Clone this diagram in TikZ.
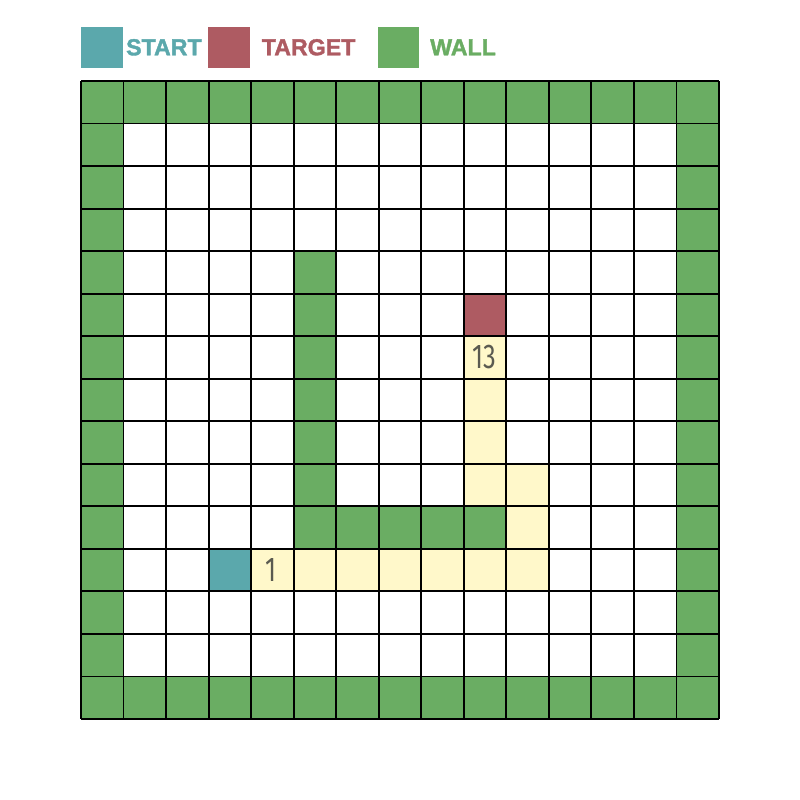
\documentclass[tikz,border=0pt]{standalone}
\usepackage{fontspec}
\setsansfont{Liberation Sans}[BoldFeatures={FakeBold=1.6}]
\newfontfamily\numfont{Fira Sans}
\usetikzlibrary{positioning}
\definecolor{startc}{HTML}{5BA8AC}
\definecolor{targetc}{HTML}{AE5B62}
\definecolor{wallc}{HTML}{6AAD63}
\definecolor{trailc}{HTML}{FFF8CA}
\definecolor{numgray}{HTML}{5A5A50}

\begin{document}
\begin{tikzpicture}[x=1cm,y=1cm,
  key/.style={minimum size=0.97cm,inner sep=0,anchor=south west},
  lbl/.style={font=\sffamily\bfseries\fontsize{15.5}{18}\selectfont,inner sep=0},
  num/.style={font=\numfont\fontsize{23}{25}\selectfont,text=numgray,xscale=0.74,inner sep=0},
  gridline/.style={line width=1.2pt,draw=black}]
  \useasboundingbox (-1.905,-1.905) rectangle (16.905,16.905);
  % legend
  \node[key,fill=startc] (ks) at (0,15.3) {};
  \node[lbl,text=startc,right=0.07 of ks] (ls) {START};
  \node[key,fill=targetc] (kt) at (2.99,15.3) {};
  \node[lbl,text=targetc,right=0.27 of kt] (lt) {TARGET};
  \node[key,fill=wallc] (kw) at (6.98,15.3) {};
  \node[lbl,text=wallc,right=0.24 of kw] (lw) {WALL};
  % walls
  \fill[wallc] (0,0) rectangle (15,15);
  \fill[white] (1,1) rectangle (14,14);
  \fill[wallc] (5,4) rectangle (6,11);
  \fill[wallc] (5,4) rectangle (10,5);
  % path
  \fill[trailc] (4,3) rectangle (11,4);
  \fill[trailc] (10,4) rectangle (11,6);
  \fill[trailc] (9,5) rectangle (10,9);
  \fill[startc] (3,3) rectangle (4,4);
  \fill[targetc] (9,9) rectangle (10,10);
  \node[num] (n1) at (4.47,3.5) {1};
  \node[num] (n13) at (9.49,8.5) {13};
  % grid
  \draw[gridline] (0,0) grid (15,15);
\end{tikzpicture}
\end{document}
